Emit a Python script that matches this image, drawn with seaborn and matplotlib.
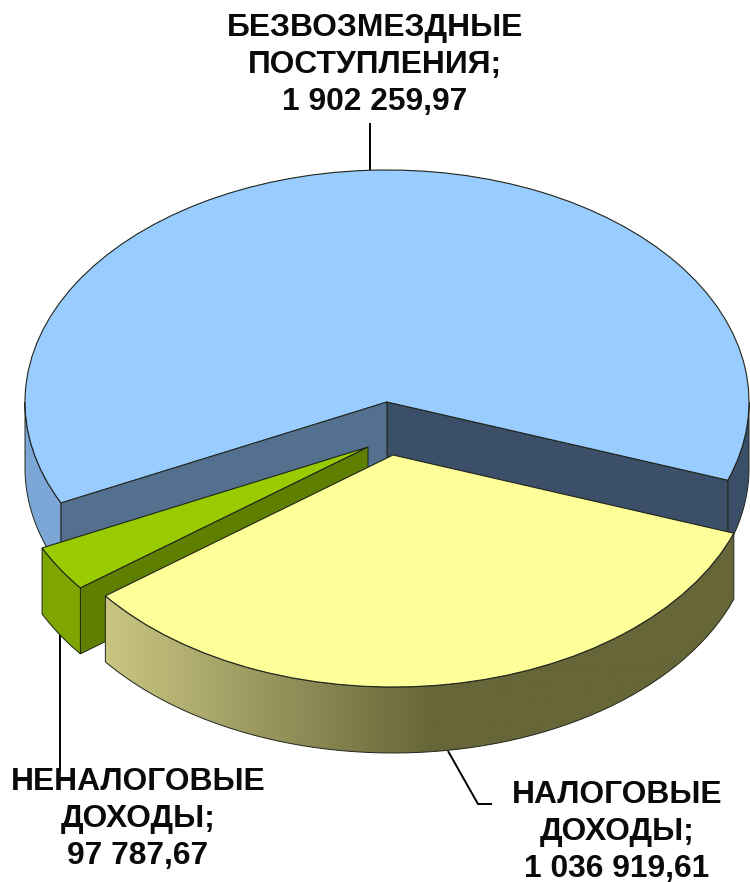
import numpy as np
import matplotlib
matplotlib.use("Agg")
import matplotlib.pyplot as plt
from matplotlib.colors import LinearSegmentedColormap
from matplotlib.patches import PathPatch, Polygon
from matplotlib.path import Path
import seaborn as sns

# values from the chart
names = ["БЕЗВОЗМЕЗДНЫЕ\nПОСТУПЛЕНИЯ;", "НЕНАЛОГОВЫЕ\nДОХОДЫ;", "НАЛОГОВЫЕ\nДОХОДЫ;"]
amounts = [1902259.97, 97787.67, 1036919.61]
value_labels = ["1 902 259,97", "97 787,67", "1 036 919,61"]

top_colors = ["#99ccff", "#99cc00", "#ffff99"]
outer_colors = ["#7ba6d5", "#7ea500", "#666639"]

# picture is 750x882, the pie is squashed by letting the axes stretch it
W, H = 750, 882
CX, CY, RX, RY = 387, 402, 362, 232
DEPTH = 66 / RY


def px(x, y):
    return (x - CX) / RX, (CY - y) / RY


sns.set_theme(style="white")
plt.rcParams["font.family"] = ["Liberation Sans", "DejaVu Sans"]

fig = plt.figure(figsize=(W / 100, H / 100), dpi=100)
ax = fig.add_axes([0, 0, 1, 1])

wedges, _ = ax.pie(amounts, colors=sns.color_palette(top_colors), startangle=-19.7,
                   wedgeprops={"edgecolor": "#20241c", "linewidth": 0.8})

# slices are pulled apart by hand since the offsets aren't radial
centers = [px(387, 402), px(368, 447), px(393, 455)]
for w, c, z in zip(wedges, centers, [3, 7, 10]):
    w.set_center(c)
    w.set_zorder(z)


def edge(center, a, b, n=120):
    t = np.radians(np.linspace(a, b, n))
    return center[0] + np.cos(t), center[1] + np.sin(t)


def wall(center, a, b):
    x, y = edge(center, a, b)
    xy = np.r_[np.c_[x, y], np.c_[x[::-1], y[::-1] - DEPTH]]
    return xy


def side(xy, color, z):
    ax.add_patch(Polygon(xy, closed=True, facecolor=color, edgecolor="#20241c", linewidth=0.7, zorder=z))


def flat(center, angle):
    x, y = edge(center, angle, angle, 1)
    return np.array([[center[0], center[1]], [x[0], y[0]], [x[0], y[0] - DEPTH], [center[0], center[1] - DEPTH]])


blue, green, yellow = wedges
# blue: outer rim both sides, then the two cut faces
side(wall(centers[0], 180, blue.theta2), outer_colors[0], 1)
side(wall(centers[0], blue.theta1, 0), "#3b5068", 1)
side(flat(centers[0], blue.theta2), "#54708f", 4)
side(flat(centers[0], blue.theta1), "#3b5068", 2)

# green
side(flat(centers[1], green.theta2), "#5e7f00", 5)
side(wall(centers[1], green.theta1, green.theta2), outer_colors[1], 6)

# yellow rim has a horizontal gradient going dark towards the middle
rim = wall(centers[2], yellow.theta1, yellow.theta2)
cmap = LinearSegmentedColormap.from_list("rim", [(0, "#cac682"), (0.52, "#666639"), (1, "#666639")], N=256)
x0, _ = px(105, 0)
x1, _ = px(733, 0)
grad = np.linspace(0, 1, 256).reshape(1, -1)
img = ax.imshow(grad, cmap=cmap, extent=[x0, x1, rim[:, 1].min(), rim[:, 1].max()], aspect="auto", zorder=8)
clip = PathPatch(Path(np.r_[rim, rim[:1]]), transform=ax.transData, facecolor="none", edgecolor="#20241c",
                 linewidth=0.7, zorder=9)
ax.add_patch(clip)
img.set_clip_path(clip)

# leader lines
leaders = [[(370, 123), (370, 170)], [(60, 633), (60, 772)], [(448, 751), (478, 804), (492, 804)]]
for pts in leaders:
    xs, ys = zip(*[px(*p) for p in pts])
    ax.plot(xs, ys, color="black", lw=1.4, zorder=0.5, solid_capstyle="butt")

# labels
label_pos = [(375, 65), (138, 819), (617, 832)]
for name, val, pos in zip(names, value_labels, label_pos):
    x, y = px(*pos)
    ax.text(x, y, name + "\n" + val, ha="center", va="center", fontsize=22.9, fontweight="bold",
            color="#0a0a0a", linespacing=1.29, zorder=12)

ax.set_aspect("auto")
ax.set_xlim(px(0, 0)[0], px(W, 0)[0])
ax.set_ylim(px(0, H)[1], px(0, 0)[1])
ax.axis("off")
fig.savefig("out.png", dpi=100, facecolor="white")
